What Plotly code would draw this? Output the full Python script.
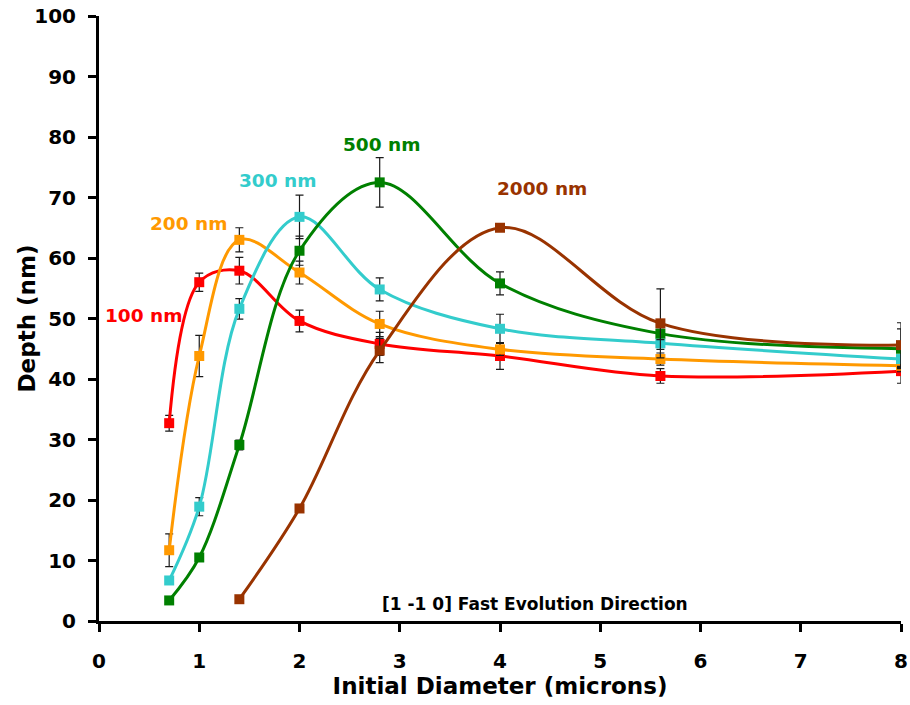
import plotly.graph_objects as go

# Initial diameter (microns) at which each depth was measured
diam_all = [0.7, 1.0, 1.4, 2.0, 2.8, 4.0, 5.6, 8.0]
diam_2000 = [1.4, 2.0, 2.8, 4.0, 5.6, 8.0]

# Depth (nm) per film thickness, with symmetric error
depth_100 = [32.7, 56.0, 57.9, 49.6, 45.8, 43.8, 40.5, 41.3]
err_100 = [1.3, 1.5, 2.2, 1.8, 1.9, 2.2, 1.2, 2.0]

depth_200 = [11.7, 43.8, 63.0, 57.6, 49.1, 44.9, 43.3, 42.2]
err_200 = [2.7, 3.4, 2.0, 1.9, 2.1, 1.0, 1.0, 1.0]

depth_300 = [6.7, 18.9, 51.6, 66.8, 54.8, 48.3, 45.9, 43.3]
err_300 = [0.5, 1.5, 1.7, 3.6, 1.9, 2.4, 1.0, 1.2]

depth_500 = [3.4, 10.5, 29.1, 61.2, 72.5, 55.8, 47.5, 45.0]
err_500 = [0.5, 0.5, 0.8, 2.4, 4.1, 1.9, 1.0, 3.3]

depth_2000 = [3.6, 18.6, 44.7, 65.0, 49.2, 45.6]
err_2000 = [0.5, 0.5, 2.0, 0.5, 5.7, 3.7]

series_names = ["100 nm", "200 nm", "300 nm", "500 nm", "2000 nm"]
series_colors = ["#FF0000", "#FF9900", "#33CCCC", "#008000", "#993300"]

# Label anchor for each series name (x in microns, y in nm)
label_x = [0.45, 0.90, 1.79, 2.82, 4.42]
label_y = [50.5, 65.7, 72.8, 78.7, 71.5]

direction_note = "[1 -1 0] Fast Evolution Direction"
x_title = "Initial Diameter (microns)"
y_title = "Depth (nm)"
x_ticks = [0, 1, 2, 3, 4, 5, 6, 7, 8]
y_ticks = [0, 10, 20, 30, 40, 50, 60, 70, 80, 90, 100]

FONT = "DejaVu Sans"
PLOT_LEFT, PLOT_WIDTH = 99, 802

series = [
    (diam_all, depth_100, err_100),
    (diam_all, depth_200, err_200),
    (diam_all, depth_300, err_300),
    (diam_all, depth_500, err_500),
    (diam_2000, depth_2000, err_2000),
]

fig = go.Figure()
for (xs, ys, es), name, color in zip(series, series_names, series_colors):
    fig.add_trace(go.Scatter(
        x=xs, y=ys, name=name, mode="lines+markers",
        line=dict(color=color, width=3, shape="spline", smoothing=1.0),
        marker=dict(symbol="square", size=10, color=color),
        error_y=dict(type="data", array=es, visible=True,
                     color="#1a1a1a", thickness=1.2, width=4),
        showlegend=False,
    ))

for name, color, lx, ly in zip(series_names, series_colors, label_x, label_y):
    fig.add_annotation(x=lx, y=ly, text=f"<b>{name}</b>", showarrow=False,
                       font=dict(family=FONT, size=18.5, color=color),
                       xanchor="center", yanchor="middle")

fig.add_annotation(x=4.35, y=2.8, text=f"<b>{direction_note}</b>", showarrow=False,
                   font=dict(family=FONT, size=17, color="black"),
                   xanchor="center", yanchor="middle")

# Vertical axis title, centred on the plot height
fig.add_annotation(xref="paper", yref="paper",
                   x=(26 - PLOT_LEFT) / PLOT_WIDTH, y=0.5,
                   text=f"<b>{y_title}</b>", textangle=-90, showarrow=False,
                   font=dict(family=FONT, size=23, color="black"),
                   xanchor="center", yanchor="middle")

axis_common = dict(
    showline=True, linecolor="black", linewidth=3,
    ticks="outside", ticklen=8, tickwidth=3, tickcolor="black",
    showgrid=False, zeroline=False, automargin=False,
    tickfont=dict(family=FONT, size=20, color="black", weight="bold"),
)

fig.update_xaxes(
    range=[0, 8], tickvals=x_ticks, ticklabelstandoff=12,
    title=dict(text=f"<b>{x_title}</b>", standoff=2,
               font=dict(family=FONT, size=23, color="black")),
    **axis_common,
)
fig.update_yaxes(
    range=[0, 100], tickvals=y_ticks, ticklabelstandoff=8,
    **axis_common,
)

fig.update_layout(
    width=910, height=705,
    margin=dict(l=PLOT_LEFT, r=910 - PLOT_LEFT - PLOT_WIDTH, t=16, b=84),
    paper_bgcolor="white", plot_bgcolor="white",
)

fig.write_html("out.html")
